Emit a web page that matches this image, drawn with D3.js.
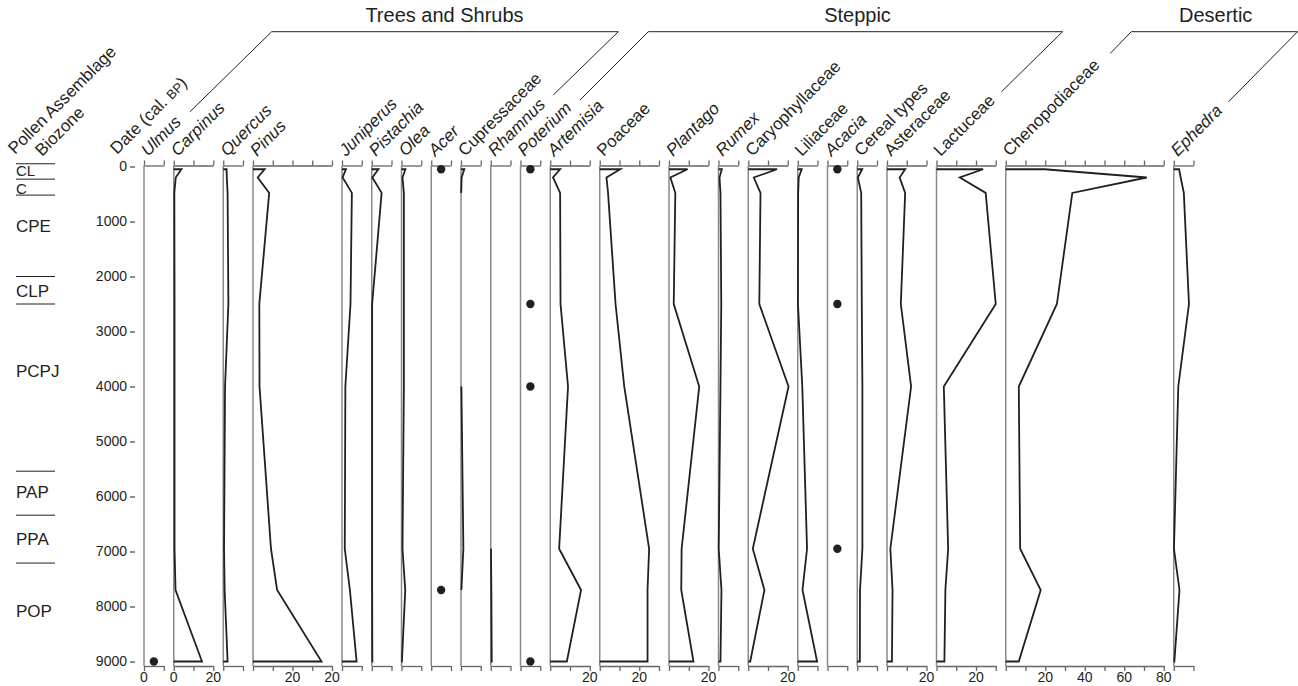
<!DOCTYPE html>
<html>
<head>
<meta charset="utf-8">
<script src="https://cdn.jsdelivr.net/npm/d3@7"></script>
<style>
  html, body { margin: 0; padding: 0; background: #fff; }
  svg { display: block; font-family: "Liberation Sans", Arial, Helvetica, sans-serif; }
</style>
</head>
<body>
<svg id="chart" width="1298" height="686"></svg>
<script>
// Sample ages (cal. BP) of the pollen spectra
const depths = [50, 200, 480, 2500, 4000, 6950, 7700, 9000];

// Percentages per taxon (null = not recorded in that sample)
const ulmus          = [null, null, null, null, null, null, null, 5];
const carpinus       = [3.9, 1.0, 0.3, 0.4, 0.4, 0.4, 0.9, 14.3];
const quercus        = [1.7, 1.8, 2.2, 2.6, 0.9, 0.4, 0.7, 2.2];
const pinus          = [5.9, 2.4, 8.2, 3.2, 3.3, 9.1, 12.2, 34.7];
const juniperus      = [2.0, 0.3, 5.0, 4.3, 1.7, 1.4, 4.0, 7.4];
const pistachia      = [3.4, 0.3, 5.0, 0.2, 0.2, 0.2, 0.2, 0.3];
const olea           = [2.0, 0.5, 1.2, 1.2, 1.2, 0.5, 1.9, 0.2];
const acer           = [5, null, null, null, null, null, 5, null];
const cupressaceae   = [1.7, 0.3, 0.1, null, 0.2, 1.2, 0.2, null];
const rhamnus        = [null, null, null, null, null, 0.1, 0.3, 0.5];
const poterium       = [5, null, null, 5, 5, null, null, 5];
const artemisia      = [5.0, 1.4, 5.0, 5.2, 9.0, 4.5, 15.6, 8.4];
const poaceae        = [10.4, 3.4, 4.2, 8.0, 12.4, 25.0, 24.2, 24.2];
const plantago       = [9.4, 0.7, 3.2, 2.4, 15.3, 6.4, 6.2, 12.4];
const rumex          = [1.7, 0.5, 1.0, 1.4, 1.0, 0.1, 1.5, 1.0];
const caryophyllaceae= [14.6, 2.8, 6.2, 5.6, 20.4, 2.3, 8.2, 1.0];
const liliaceae      = [2.0, 0.5, 0.2, 0.1, 2.3, 4.7, 2.4, 9.8];
const acacia         = [5, null, null, 5, null, 5, null, null];
const cerealTypes    = [2.5, 0.3, 2.0, 2.3, 2.6, 2.6, 1.4, 1.3];
const asteraceae     = [9.2, 6.4, 9.2, 7.0, 12.2, 1.7, 2.8, 2.5];
const lactuceae      = [23.6, 11.8, 24.9, 30.0, 3.7, 5.9, 4.5, 4.0];
const chenopodiaceae = [19.7, 71.4, 33.7, 25.9, 6.6, 7.3, 17.7, 6.6];
const ephedra        = [2.7, 3.5, 5.1, 7.7, 2.3, 0.1, 2.9, 0.3];

// Taxon names, axis maxima (%), styles
const taxonNames = ["Ulmus","Carpinus","Quercus","Pinus","Juniperus","Pistachia","Olea","Acer",
  "Cupressaceae","Rhamnus","Poterium","Artemisia","Poaceae","Plantago","Rumex","Caryophyllaceae",
  "Liliaceae","Acacia","Cereal types","Asteraceae","Lactuceae","Chenopodiaceae","Ephedra"];
const taxonValues = [ulmus, carpinus, quercus, pinus, juniperus, pistachia, olea, acer,
  cupressaceae, rhamnus, poterium, artemisia, poaceae, plantago, rumex, caryophyllaceae,
  liliaceae, acacia, cerealTypes, asteraceae, lactuceae, chenopodiaceae, ephedra];
const taxonMax = [10, 20, 10, 40, 10, 10, 10, 10, 10, 10, 10, 20, 30, 20, 10, 20, 10, 10, 10, 20, 30, 80, 10];
const italicTaxa = ["Ulmus","Carpinus","Quercus","Pinus","Juniperus","Pistachia","Olea","Acer",
  "Rhamnus","Poterium","Artemisia","Plantago","Rumex","Acacia","Ephedra"];
const dotTaxa = ["Ulmus","Acer","Poterium","Acacia"];

// Labelled ticks on the lower axes: [taxon, value, text]
const bottomTickLabels = [
  ["Ulmus", 0, "0"], ["Carpinus", 0, "0"], ["Carpinus", 20, "20"],
  ["Pinus", 20, "20"], ["Pinus", 40, "20"], ["Artemisia", 20, "20"],
  ["Poaceae", 20, "20"], ["Plantago", 20, "20"], ["Caryophyllaceae", 20, "20"],
  ["Asteraceae", 20, "20"], ["Lactuceae", 20, "20"],
  ["Chenopodiaceae", 20, "20"], ["Chenopodiaceae", 40, "40"],
  ["Chenopodiaceae", 60, "60"], ["Chenopodiaceae", 80, "80"]
];

// Age axis ticks
const ageTicks = [0, 1000, 2000, 3000, 4000, 5000, 6000, 7000, 8000, 9000];

// Pollen assemblage biozones
const zoneNames = ["CL", "C", "CPE", "CLP", "PCPJ", "PAP", "PPA", "POP"];
const zoneBoundaries = [-50, 230, 520, 2000, 2500, 5540, 6340, 7210];
const zoneLabelAges = [80, 395, 1080, 2265, 3720, 5920, 6770, 8080];

// Ecological groups
const groupNames = ["Trees and Shrubs", "Steppic", "Desertic"];

const svg = d3.select("#chart");
const INK = "#231f20";
const FONT = 17;

const y = d3.scaleLinear().domain([0, 9000]).range([166.5, 661.5]);
const topAxisY = 165.5, bottomAxisY = 666;

// Horizontal layout of the panels: common % scale, fixed gap
const pxPerPct = 1.975, gap = 10, firstLeft = 144;
const panels = [];
let cursor = firstLeft;
taxonNames.forEach((name, i) => {
  const w = taxonMax[i] * pxPerPct;
  panels.push({
    name, values: taxonValues[i], max: taxonMax[i],
    italic: italicTaxa.includes(name), dots: dotTaxa.includes(name),
    x: d3.scaleLinear().domain([0, taxonMax[i]]).range([cursor, cursor + w])
  });
  cursor += w + gap;
});
const byName = Object.fromEntries(panels.map(p => [p.name, p]));

// Age axis
const ageAxis = svg.append("g")
  .attr("transform", "translate(135,0)")
  .call(d3.axisLeft(y).tickValues(ageTicks).tickFormat(d3.format("d")).tickSize(5).tickPadding(3));
ageAxis.select(".domain").remove();
ageAxis.selectAll("line").attr("stroke", INK).attr("stroke-width", 1);
ageAxis.selectAll("text").attr("font-size", 14).attr("fill", INK)
  .attr("font-family", "Liberation Sans, Arial, sans-serif");

// Panels
const line = d3.line()
  .defined(d => d[1] != null)
  .x(d => d.sx(d[1]))
  .y(d => y(d[0]));

panels.forEach(p => {
  const g = svg.append("g");
  const ticks = d3.range(0, p.max + 1, 10);

  // baseline
  g.append("line")
    .attr("x1", p.x(0)).attr("x2", p.x(0))
    .attr("y1", topAxisY).attr("y2", bottomAxisY)
    .attr("stroke", "#8a8a8a").attr("stroke-width", 1.5);

  const top = g.append("g").attr("transform", `translate(0,${topAxisY})`)
    .call(d3.axisTop(p.x).tickValues(ticks).tickSize(5).tickSizeOuter(0).tickFormat(""));
  const bot = g.append("g").attr("transform", `translate(0,${bottomAxisY})`)
    .call(d3.axisBottom(p.x).tickValues(ticks).tickSize(5).tickSizeOuter(0).tickFormat(""));
  [top, bot].forEach(a => {
    a.select(".domain").attr("stroke", "#666").attr("stroke-width", 1.3);
    a.selectAll("line").attr("stroke", "#666").attr("stroke-width", 1.3);
  });

  if (p.dots) {
    g.selectAll("circle").data(depths.map((d, i) => [d, p.values[i]]).filter(d => d[1] != null))
      .join("circle")
      .attr("cx", d => p.x(d[1])).attr("cy", d => y(d[0])).attr("r", 4.2)
      .attr("fill", INK);
  } else {
    const pts = depths.map((d, i) => [d, p.values[i]]);
    const n = pts.length;
    if (pts[0][1] != null) pts.unshift([depths[0], 0]);
    if (pts[pts.length - 1][1] != null) pts.push([depths[n - 1], 0]);
    pts.forEach(d => d.sx = p.x);
    g.append("path").attr("d", line(pts))
      .attr("fill", "none").attr("stroke", INK).attr("stroke-width", 1.8)
      .attr("stroke-linejoin", "miter");
  }

  // taxon label, rotated
  g.append("text")
    .attr("transform", `translate(${p.x(0) + 4},157) rotate(-45)`)
    .attr("font-size", FONT).attr("fill", INK)
    .attr("font-style", p.italic ? "italic" : "normal")
    .text(p.name);
});

// lower-axis tick labels
svg.append("g").selectAll("text").data(bottomTickLabels).join("text")
  .attr("x", d => byName[d[0]].x(d[1]))
  .attr("y", 682)
  .attr("text-anchor", "middle")
  .attr("font-size", 14).attr("fill", INK)
  .text(d => d[2]);

// Left headings
svg.append("text").attr("transform", "translate(15,155) rotate(-45)")
  .attr("font-size", FONT).attr("fill", INK).text("Pollen Assemblage");
svg.append("text").attr("transform", "translate(42,157) rotate(-45)")
  .attr("font-size", FONT).attr("fill", INK).text("Biozone");
const dateLabel = svg.append("text").attr("transform", "translate(117,155) rotate(-45)")
  .attr("font-size", FONT).attr("fill", INK);
dateLabel.append("tspan").text("Date (cal. ");
dateLabel.append("tspan").attr("font-size", 13).text("BP");
dateLabel.append("tspan").text(")");

// Biozones
const zoneG = svg.append("g");
zoneG.selectAll("line").data(zoneBoundaries).join("line")
  .attr("x1", 16).attr("x2", 55)
  .attr("y1", d => y(d)).attr("y2", d => y(d))
  .attr("stroke", INK).attr("stroke-width", 1);
zoneG.selectAll("text").data(zoneNames).join("text")
  .attr("x", 16).attr("y", (d, i) => y(zoneLabelAges[i]))
  .attr("dy", "0.36em")
  .attr("font-size", (d, i) => i < 2 ? 15 : 17).attr("fill", INK)
  .text(d => d);

// Group brackets and headings
const groupBrackets = [
  [[190, 111.7], [271.7, 31.7], [618.3, 31.7], [553.3, 95]],
  [[580, 100], [648.3, 31.7], [1062.6, 31.7], [1001.5, 91.7]],
  [[1110.3, 53.3], [1131.3, 31.7], [1297.5, 31.7], [1228.6, 101.7]]
];
const groupTextX = [444.5, 857.5, 1215.7];
groupBrackets.forEach((b, i) => {
  svg.append("path").attr("d", d3.line()(b))
    .attr("fill", "none").attr("stroke", INK).attr("stroke-width", 1);
  svg.append("text").attr("x", groupTextX[i]).attr("y", 22)
    .attr("text-anchor", "middle").attr("font-size", 20).attr("fill", INK)
    .text(groupNames[i]);
});
</script>
</body>
</html>
